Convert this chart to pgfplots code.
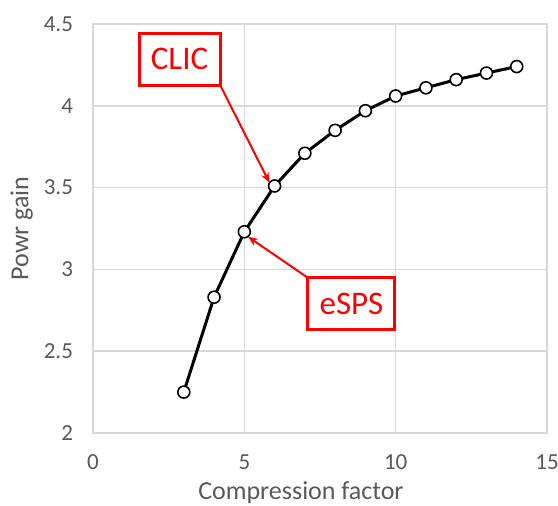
\documentclass[border=0pt]{standalone}
\usepackage{pgfplots}
\pgfplotsset{compat=1.18}
\usepackage{fontspec}
\setmainfont{Carlito}
\usetikzlibrary{arrows.meta}
\definecolor{txtgray}{HTML}{595959}
\definecolor{gridgray}{HTML}{D9D9D9}
\begin{document}
\begin{tikzpicture}
\useasboundingbox (-46.5pt,-36pt) rectangle (232.5pt,216.5pt);
\begin{axis}[
  at={(0pt,0pt)}, anchor=origin,
  scale only axis,
  width=227pt, height=204.5pt,
  xmin=0, xmax=15, ymin=2, ymax=4.5,
  xtick={0,5,10,15}, ytick={2,2.5,3,3.5,4,4.5},
  grid=major,
  major grid style={gridgray, line width=0.8pt},
  axis line style={gridgray, line width=0.8pt},
  tick style={draw=none},
  ticklabel style={font=\fontsize{11.5}{13}\selectfont, text=txtgray},
  /pgf/number format/assume math mode=true,
  /pgf/number format/fixed,
  xticklabel style={yshift=-7.5pt},
  yticklabel style={xshift=-6.5pt},
  xlabel={Compression factor},
  ylabel={Powr gain},
  label style={font=\fontsize{13}{15}\selectfont, text=txtgray},
  xlabel style={at={(axis description cs:0.458,0)}, anchor=center, yshift=-30pt},
  ylabel style={at={(axis description cs:-0.157,0.5)}, anchor=center},
  clip=false,
]
\addplot[black, line width=1.5pt, mark=*, mark size=3pt,
  mark options={fill=white, draw=black, line width=0.8pt}]
  coordinates {
  (3,2.25) (4,2.83) (5,3.23) (6,3.51) (7,3.71) (8,3.85)
  (9,3.97) (10,4.06) (11,4.11) (12,4.16) (13,4.20) (14,4.24)
  };
\draw[red, line width=1pt, -{Stealth[length=5pt,width=4pt]}]
  (axis cs:4.20,4.127) -- (axis cs:5.83,3.53);
\draw[red, line width=1pt, -{Stealth[length=5pt,width=4pt]}]
  (axis cs:7.09,2.95) -- (axis cs:5.12,3.20);
\node[draw=red, line width=1.5pt, fill=white, text=red,
  minimum width=40.5pt, minimum height=26pt, inner sep=0pt,
  font=\fontsize{16.5}{18}\selectfont]
  at (axis cs:2.86,4.286) {CLIC};
\node[draw=red, line width=1.5pt, fill=white, text=red,
  minimum width=43.5pt, minimum height=26pt, inner sep=0pt,
  font=\fontsize{16.5}{18}\selectfont]
  at (axis cs:8.54,2.79) {eSPS};
\end{axis}
\end{tikzpicture}
\end{document}
